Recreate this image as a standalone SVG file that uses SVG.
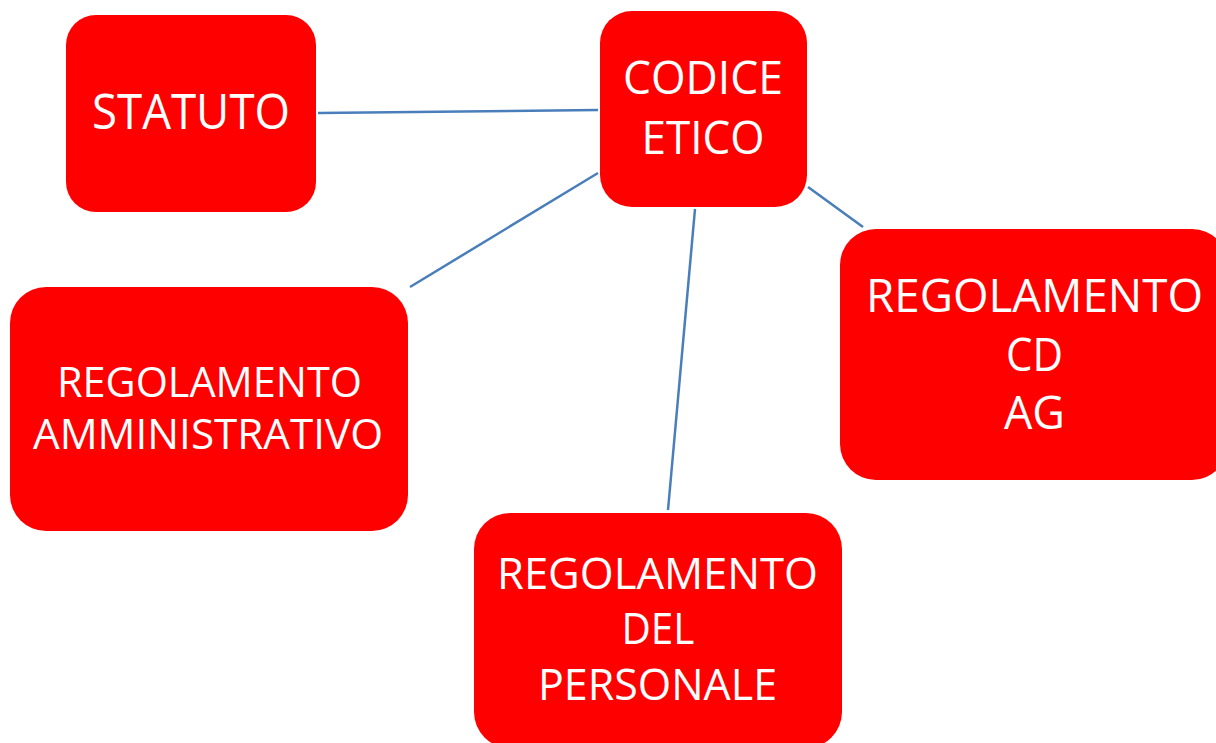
<svg xmlns="http://www.w3.org/2000/svg" width="1216" height="743" viewBox="0 0 1216 743">
<style>
.box{fill:#ff0000;}
.t{fill:#ffffff;font-family:"Open Sans","Liberation Sans",sans-serif;text-anchor:middle;}
.c{stroke:#4a7ebb;stroke-width:2.5;fill:none;}
</style>
<rect width="1216" height="743" fill="#ffffff"/>
<g id="connectors">
<line class="c" x1="318" y1="113" x2="598" y2="110"/>
<line class="c" x1="598" y1="173" x2="410" y2="287"/>
<line class="c" x1="695" y1="209" x2="668" y2="510"/>
<line class="c" x1="808" y1="187" x2="863" y2="227"/>
</g>
<g id="statuto">
<rect class="box" x="66" y="15" width="250" height="197" rx="30"/>
<text class="t" x="191" y="129" font-size="50" textLength="198" lengthAdjust="spacingAndGlyphs">STATUTO</text>
</g>
<g id="codice-etico">
<rect class="box" x="600" y="11" width="207" height="196" rx="32"/>
<text class="t" x="703" y="94" font-size="46" textLength="160" lengthAdjust="spacingAndGlyphs">CODICE</text>
<text class="t" x="703" y="154" font-size="46" textLength="123" lengthAdjust="spacingAndGlyphs">ETICO</text>
</g>
<g id="regolamento-cd-ag">
<rect class="box" x="840" y="229" width="388" height="251" rx="36"/>
<text class="t" x="1034.5" y="312" font-size="46" textLength="337" lengthAdjust="spacingAndGlyphs">REGOLAMENTO</text>
<text class="t" x="1034.5" y="371" font-size="46" textLength="57" lengthAdjust="spacingAndGlyphs">CD</text>
<text class="t" x="1034.5" y="429" font-size="46" textLength="61" lengthAdjust="spacingAndGlyphs">AG</text>
</g>
<g id="regolamento-del-personale">
<rect class="box" x="474" y="513" width="368" height="235" rx="36"/>
<text class="t" x="657.5" y="589" font-size="44" textLength="321" lengthAdjust="spacingAndGlyphs">REGOLAMENTO</text>
<text class="t" x="658" y="644" font-size="44" textLength="73" lengthAdjust="spacingAndGlyphs">DEL</text>
<text class="t" x="657.5" y="700" font-size="44" textLength="239" lengthAdjust="spacingAndGlyphs">PERSONALE</text>
</g>
<g id="regolamento-amministrativo">
<rect class="box" x="10" y="287" width="398" height="244" rx="36"/>
<text class="t" x="209.5" y="397" font-size="42" textLength="305" lengthAdjust="spacingAndGlyphs">REGOLAMENTO</text>
<text class="t" x="208" y="449" font-size="42" textLength="350" lengthAdjust="spacingAndGlyphs">AMMINISTRATIVO</text>
</g>
</svg>
